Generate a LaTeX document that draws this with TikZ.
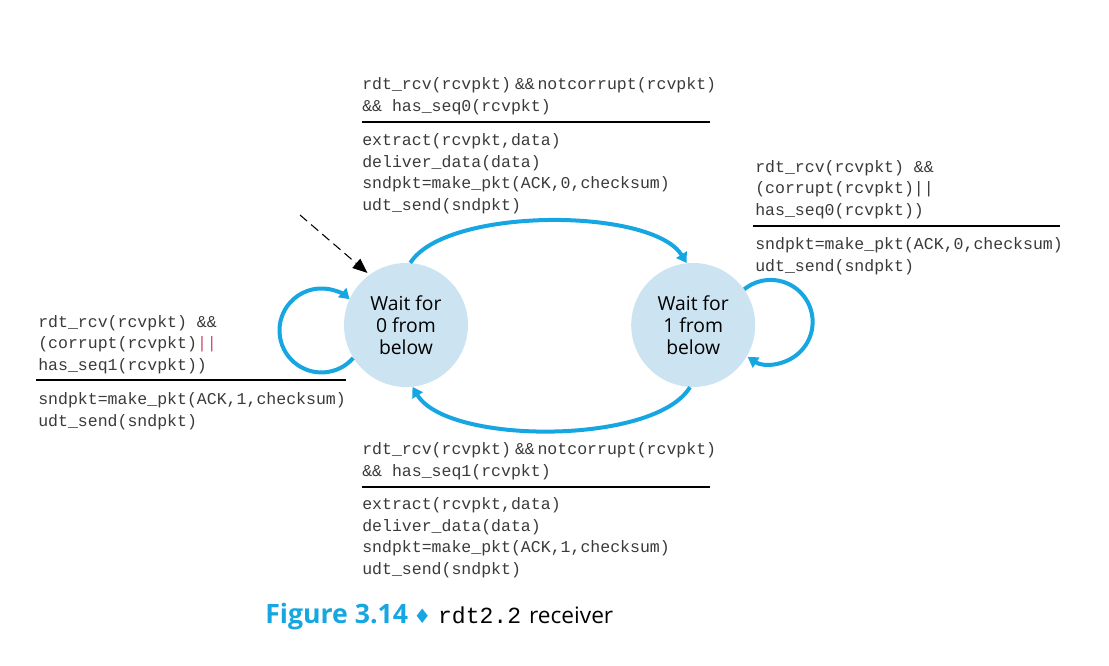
\documentclass[tikz,border=0pt]{standalone}
\usepackage{fontspec}
\setmainfont{Open Sans}
\setsansfont{Open Sans}
\setmonofont{Liberation Mono}
\newfontfamily\symfont{DejaVu Sans}
\usetikzlibrary{arrows.meta,positioning}
\definecolor{fsmblue}{HTML}{16A6E2}
\definecolor{statefill}{HTML}{CCE4F1}
\definecolor{codegray}{HTML}{3A3A3A}
\definecolor{orbar}{HTML}{C8506A}
\newcommand{\lblfont}{\ttfamily\fontsize{12.4}{16.1}\selectfont}
\newcommand{\andand}{\hspace{3pt}\&\&\hspace{2pt}}

\begin{document}
\begin{tikzpicture}[x=0.75pt, y=0.75pt,
    state/.style={circle, fill=statefill, minimum size=93pt, inner sep=0pt, align=center, text=black, font=\sffamily\fontsize{14.5}{16.9}\selectfont},
    trans/.style={draw=fsmblue, line width=3pt, -{Triangle[length=7.5pt,width=9pt]}},
    lbl/.style={anchor=base west, inner sep=0pt, align=left, text=codegray, font=\lblfont},
    bar/.style={line width=1.1pt},
    initarrow/.style={dash pattern=on 7pt off 4pt, line width=0.8pt, shorten >=2pt, -{Triangle[length=11pt,width=9pt]}}]
    \useasboundingbox (0,0) rectangle (1109,-665);

    % states
    \node[state] (s0) at (406,-325) {\raisebox{-3pt}{\shortstack{Wait for\\[2.5pt]0 from\\[2.5pt]below}}};
    \node[state, right=122pt of s0] (s1) {\raisebox{-3pt}{\shortstack{Wait for\\[2.5pt]1 from\\[2.5pt]below}}};

    % initial arrow
    \coordinate (init) at (300,-215);
    \draw[initarrow] (init) -- (s0.126);

    % transitions
    \draw[trans] (s0.86) .. controls +(35,56) and +(-35,56) .. (s1.96);
    \draw[trans] (s1.267) .. controls +(-35,-58) and +(35,-58) .. (s0.276);
    \draw[trans] (s0.212) arc[start angle=-41, end angle=-312, radius=42];
    \draw[trans] (s1.35) arc[start angle=129, end angle=-123, radius=42];

    % top label (base = last line)
    \node[lbl] (g01) at (362,-111) {rdt\_rcv(rcvpkt)\andand notcorrupt(rcvpkt)\\\&\& has\_seq0(rcvpkt)};
    \draw[bar] (362,-122) -- ++(348,0);
    \node[lbl] (a01) at (362,-210) {extract(rcvpkt,data)\\deliver\_data(data)\\sndpkt=make\_pkt(ACK,0,checksum)\\udt\_send(sndpkt)};

    % right label
    \node[lbl] (g11) at (755,-215) {rdt\_rcv(rcvpkt) \&\&\\(corrupt(rcvpkt)||\\has\_seq0(rcvpkt))};
    \draw[bar] (753,-226) -- ++(307,0);
    \node[lbl] (a11) at (755,-271) {sndpkt=make\_pkt(ACK,0,checksum)\\udt\_send(sndpkt)};

    % left label
    \node[lbl] (g00) at (38,-370) {rdt\_rcv(rcvpkt) \&\&\\(corrupt(rcvpkt)\textcolor{orbar}{||}\\has\_seq1(rcvpkt))};
    \draw[bar] (36,-380) -- ++(310,0);
    \node[lbl] (a00) at (38,-426) {sndpkt=make\_pkt(ACK,1,checksum)\\udt\_send(sndpkt)};

    % bottom label
    \node[lbl] (g10) at (362,-476) {rdt\_rcv(rcvpkt)\andand notcorrupt(rcvpkt)\\\&\& has\_seq1(rcvpkt)};
    \draw[bar] (362,-487) -- ++(348,0);
    \node[lbl] (a10) at (362,-574) {extract(rcvpkt,data)\\deliver\_data(data)\\sndpkt=make\_pkt(ACK,1,checksum)\\udt\_send(sndpkt)};

    % caption
    \node[anchor=base west, inner sep=0pt] (cap) at (265,-623) {{\fontsize{20}{24}\selectfont\bfseries\color{fsmblue}Figure 3.14}\hspace{4pt}{\symfont\fontsize{15}{16}\selectfont\color{fsmblue}♦}\hspace{5pt}{\ttfamily\fontsize{17.3}{20}\selectfont rdt2.2}\hspace{6pt}{\fontsize{17}{20}\selectfont receiver}};
\end{tikzpicture}
\end{document}
